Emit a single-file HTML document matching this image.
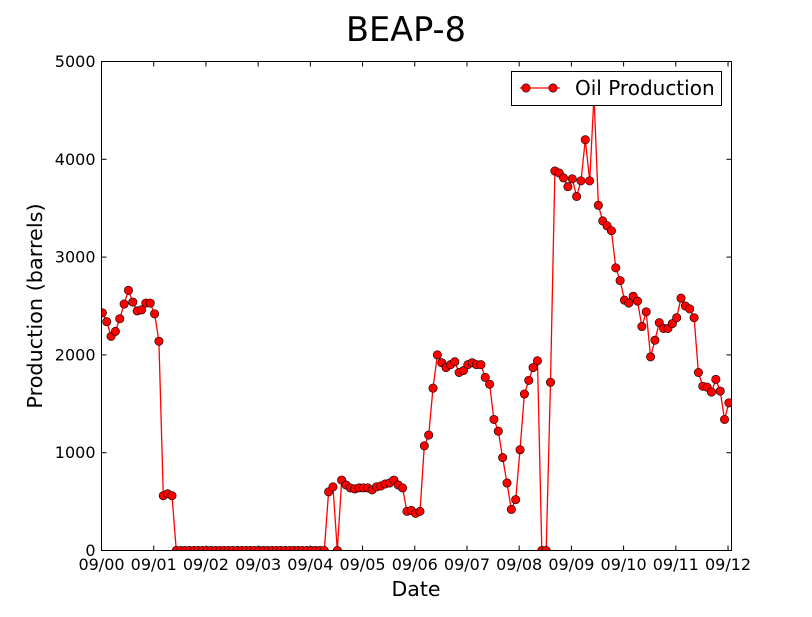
<!DOCTYPE html>
<html><head><meta charset="utf-8"><style>
body{margin:0;background:#fff;}
svg text{font-family:"DejaVu Sans","Liberation Sans",sans-serif;}
</style></head><body>
<svg id="chart" width="812" height="612" xmlns="http://www.w3.org/2000/svg">
<rect width="812" height="612" fill="#fff"/>
<text x="406" y="41" font-size="33.5" text-anchor="middle">BEAP-8</text>
<g id="plot"></g>
<rect x="101.5" y="61.5" width="630" height="489" fill="none" stroke="#000" stroke-width="1"/>
<text x="416" y="596" font-size="20.5" text-anchor="middle">Date</text>
<text transform="translate(42,306) rotate(-90)" font-size="20.8" text-anchor="middle">Production (barrels)</text>
<g>
<rect x="511.5" y="71.5" width="210" height="34" fill="#fff" stroke="#000"/>
<line x1="520" y1="88" x2="560" y2="88" stroke="red" stroke-width="1.3"/>
<circle cx="526" cy="88" r="4.2" fill="red" stroke="#000" stroke-width="0.6"/>
<circle cx="553" cy="88" r="4.2" fill="red" stroke="#000" stroke-width="0.6"/>
<text x="575" y="95" font-size="20">Oil Production</text>
</g>
</svg>
<script>
const yearLabels=["09/00","09/01","09/02","09/03","09/04","09/05","09/06","09/07","09/08","09/09","09/10","09/11","09/12"];
const yTicks=[0,1000,2000,3000,4000,5000];
const production=[
2430,2340,2190,2240,2370,2520,2660,2540,2450,2460,2530,2530,
2420,2140,560,580,560,0,0,0,0,0,0,0,
0,0,0,0,0,0,0,0,0,0,0,0,
0,0,0,0,0,0,0,0,0,0,0,0,
0,0,0,0,600,650,0,720,670,640,630,640,
640,640,620,650,660,680,690,720,670,640,400,410,
380,400,1070,1180,1660,2000,1920,1870,1900,1930,1820,1840,
1900,1920,1900,1900,1770,1700,1340,1220,950,690,420,520,
1030,1600,1740,1870,1940,0,0,1720,3880,3860,3810,3720,
3800,3620,3780,4200,3780,4650,3530,3370,3320,3270,2890,2760,
2560,2530,2600,2550,2290,2440,1980,2150,2330,2270,2270,2320,
2380,2580,2500,2470,2380,1820,1680,1670,1620,1750,1630,1340,
1510];
const NS="http://www.w3.org/2000/svg";
const X0=101.5,X1=731.5,Y0=550.5,Y1=61.5,MMAX=144.8;
const x=m=>X0+(m/MMAX)*(X1-X0);
const y=v=>Y0-(v/5000)*(Y0-Y1);
const g=document.getElementById('plot');
function mk(t,a){const e=document.createElementNS(NS,t);for(const k in a)e.setAttribute(k,a[k]);return e;}
yTicks.forEach(v=>{
 const l=mk('line',{x1:X0,x2:X0+5,y1:y(v),y2:y(v),stroke:'#000'});
 
 
 g.appendChild(l);
 const r=mk('line',{x1:X1-5,x2:X1,y1:y(v),y2:y(v),stroke:'#000'});
 
 
 g.appendChild(r);
 const t=mk('text',{x:X0-6,y:y(v)+5.5,'font-size':16,'text-anchor':'end'});
 t.textContent=v;
 
 
 g.appendChild(t);
});
yearLabels.forEach((lab,k)=>{
 const xx=x(12*k);
 const l=mk('line',{x1:xx,x2:xx,y1:Y0,y2:Y0-5,stroke:'#000'});
 
 
 g.appendChild(l);
 const r=mk('line',{x1:xx,x2:xx,y1:Y1,y2:Y1+5,stroke:'#000'});
 
 
 g.appendChild(r);
 const t=mk('text',{x:xx,y:570,'font-size':16,'text-anchor':'middle'});
 t.textContent=lab;
 
 
 g.appendChild(t);
});
const pts=production.map((v,i)=>x(i+0.2).toFixed(1)+','+y(v).toFixed(1)).join(' ');
const clip=mk('clipPath',{id:'c'});clip.appendChild(mk('rect',{x:X0,y:Y1,width:X1-X0,height:Y0-Y1}));
g.appendChild(clip);
const grp=mk('g',{'clip-path':'url(#c)'});
g.appendChild(grp);
const pl=mk('polyline',{points:pts,fill:'none',stroke:'red','stroke-width':1.3});


grp.appendChild(pl);
production.forEach((v,i)=>{
 const c=mk('circle',{cx:x(i+0.2),cy:y(v),r:4.2,fill:'red',stroke:'#000','stroke-width':0.6});
 
 
 grp.appendChild(c);
});
</script>
</body></html>
